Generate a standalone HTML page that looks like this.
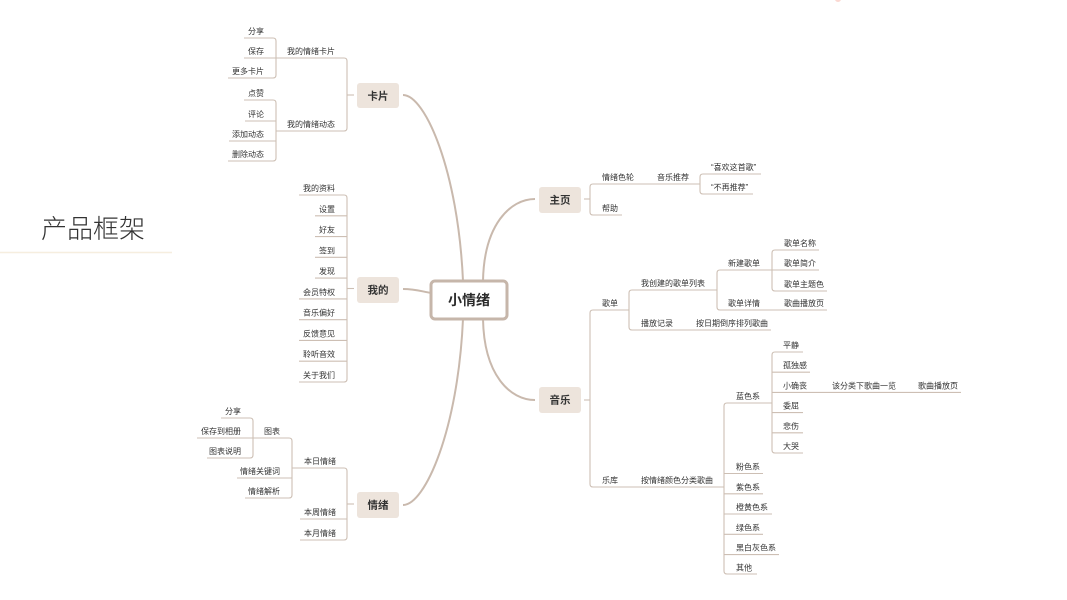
<!DOCTYPE html>
<html>
<head>
<meta charset="utf-8">
<style>
  html, body { margin:0; padding:0; background:#ffffff; }
  body { width:1067px; height:600px; overflow:hidden; }
  svg { display:block; }
  text { font-family: "Liberation Sans", "Noto Sans CJK SC", sans-serif; fill:#333333; }
  .t { font-size:8px; }
  .e { text-anchor:end; }
  .n { font-size:10.5px; font-weight:bold; text-anchor:middle; }
  .l { fill:none; stroke:#cdbfb4; stroke-width:1.1; }
  .c { fill:none; stroke:#c9b9ad; stroke-width:2; }
  .box { fill:#ede4dc; }
</style>
</head>
<body>
<svg width="1067" height="600" viewBox="0 0 1067 600" xmlns="http://www.w3.org/2000/svg">
  <!-- title -->
  <text x="41" y="238" style="font-size:26px;font-weight:300;fill:#333;">产品框架</text>
  <line x1="0" y1="252.5" x2="172" y2="252.5" stroke="#f6eedf" stroke-width="1.5"/>
  <circle cx="838" cy="-1" r="3" fill="#fbd8d2"/>

  <!-- main curves -->
  <path class="c" d="M403 95 C425 95 458 170 463 281"/>
  <path class="c" d="M403 505 C425 505 458 430 463 319"/>
  <path class="c" d="M403 289 C415 289 420 291 431 293"/>
  <path class="c" d="M535 199 C510 199 484 225 483 281"/>
  <path class="c" d="M535 400 C510 400 484 375 483 319"/>

  <!-- ===== 卡片 subtree ===== -->
  <path class="l" d="M277 58 H344 Q347 58 347 61 V128 Q347 131 344 131 H276"/>
  <path class="l" d="M347 95 H354"/>
  <path class="l" d="M244 38 H273 Q276 38 276 41 V75 Q276 78 273 78 H228"/>
  <path class="l" d="M244 58 H277"/>
  <path class="l" d="M244 100 H273 Q276 100 276 103 V158 Q276 161 273 161 H228"/>
  <path class="l" d="M245 121 H276 M229 141 H276"/>
  <text class="t e" x="335" y="54">我的情绪卡片</text>
  <text class="t e" x="335" y="127">我的情绪动态</text>
  <text class="t e" x="264" y="34">分享</text>
  <text class="t e" x="264" y="54">保存</text>
  <text class="t e" x="264" y="74">更多卡片</text>
  <text class="t e" x="264" y="96">点赞</text>
  <text class="t e" x="264" y="117">评论</text>
  <text class="t e" x="264" y="137">添加动态</text>
  <text class="t e" x="264" y="157">删除动态</text>

  <!-- ===== 我的 subtree ===== -->
  <path class="l" d="M299 195 H344 Q347 195 347 198 V379 Q347 382 344 382 H299"/>
  <path class="l" d="M347 288.5 H354"/>
  <path class="l" d="M315 215.8 H347 M315 236.6 H347 M315 257.3 H347 M315 278.1 H347 M299 298.9 H347 M299 319.7 H347 M299 340.4 H347 M299 361.2 H347"/>
  <text class="t e" x="335" y="191">我的资料</text>
  <text class="t e" x="335" y="211.8">设置</text>
  <text class="t e" x="335" y="232.6">好友</text>
  <text class="t e" x="335" y="253.3">签到</text>
  <text class="t e" x="335" y="274.1">发现</text>
  <text class="t e" x="335" y="294.9">会员特权</text>
  <text class="t e" x="335" y="315.7">音乐偏好</text>
  <text class="t e" x="335" y="336.4">反馈意见</text>
  <text class="t e" x="335" y="357.2">聆听音效</text>
  <text class="t e" x="335" y="378">关于我们</text>

  <!-- ===== 情绪 subtree ===== -->
  <path class="l" d="M292 468 H344 Q347 468 347 471 V537 Q347 540 344 540 H300"/>
  <path class="l" d="M300 519 H347"/>
  <path class="l" d="M347 504 H354"/>
  <path class="l" d="M253 438 H289 Q292 438 292 441 V495 Q292 498 289 498 H245"/>
  <path class="l" d="M237 478 H292"/>
  <path class="l" d="M221 418 H250 Q253 418 253 421 V455 Q253 458 250 458 H207"/>
  <path class="l" d="M197 438 H253"/>
  <text class="t e" x="336" y="464">本日情绪</text>
  <text class="t e" x="336" y="515">本周情绪</text>
  <text class="t e" x="336" y="536">本月情绪</text>
  <text class="t e" x="280" y="434">图表</text>
  <text class="t e" x="280" y="474">情绪关键词</text>
  <text class="t e" x="280" y="494">情绪解析</text>
  <text class="t e" x="241" y="414">分享</text>
  <text class="t e" x="241" y="434">保存到相册</text>
  <text class="t e" x="241" y="454">图表说明</text>

  <!-- ===== 主页 subtree ===== -->
  <path class="l" d="M584 199 H590"/>
  <path class="l" d="M700 184 H593 Q590 184 590 187 V212 Q590 215 593 215 H622"/>
  <path class="l" d="M761 174 H703 Q700 174 700 177 V191 Q700 194 703 194 H753"/>
  <text class="t" x="602" y="180">情绪色轮</text>
  <text class="t" x="657" y="180">音乐推荐</text>
  <text class="t" x="711" y="170">“喜欢这首歌”</text>
  <text class="t" x="711" y="190">“不再推荐”</text>
  <text class="t" x="602" y="211">帮助</text>

  <!-- ===== 音乐 subtree ===== -->
  <path class="l" d="M584 400 H590"/>
  <path class="l" d="M629 310 H593 Q590 310 590 313 V484 Q590 487 593 487 H724"/>
  <path class="l" d="M717 290 H632 Q629 290 629 293 V327 Q629 330 632 330 H771"/>
  <path class="l" d="M772 270 H720 Q717 270 717 273 V307 Q717 310 720 310 H827"/>
  <path class="l" d="M819 250 H775 Q772 250 772 253 V288 Q772 291 775 291 H827"/>
  <path class="l" d="M772 270 H819"/>
  <text class="t" x="602" y="306">歌单</text>
  <text class="t" x="641" y="286">我创建的歌单列表</text>
  <text class="t" x="641" y="326">播放记录</text>
  <text class="t" x="696" y="326">按日期倒序排列歌曲</text>
  <text class="t" x="728" y="266">新建歌单</text>
  <text class="t" x="728" y="306">歌单详情</text>
  <text class="t" x="784" y="306">歌曲播放页</text>
  <text class="t" x="784" y="246">歌单名称</text>
  <text class="t" x="784" y="266">歌单简介</text>
  <text class="t" x="784" y="287">歌单主题色</text>

  <path class="l" d="M772 403 H727 Q724 403 724 406 V571 Q724 574 727 574 H757"/>
  <path class="l" d="M724 473.5 H763 M724 493.8 H763 M724 514 H772 M724 534.3 H763 M724 554.6 H779"/>
  <text class="t" x="602" y="483">乐库</text>
  <text class="t" x="641" y="483">按情绪颜色分类歌曲</text>
  <text class="t" x="736" y="399">蓝色系</text>
  <text class="t" x="736" y="469.5">粉色系</text>
  <text class="t" x="736" y="489.8">紫色系</text>
  <text class="t" x="736" y="510">橙黄色系</text>
  <text class="t" x="736" y="530.3">绿色系</text>
  <text class="t" x="736" y="550.6">黑白灰色系</text>
  <text class="t" x="736" y="570.5">其他</text>

  <path class="l" d="M803 352 H775 Q772 352 772 355 V450 Q772 453 775 453 H803"/>
  <path class="l" d="M772 372.2 H810 M772 392.4 H961 M772 412.6 H803 M772 432.8 H803"/>
  <text class="t" x="783" y="348">平静</text>
  <text class="t" x="783" y="368.2">孤独感</text>
  <text class="t" x="783" y="388.4">小确丧</text>
  <text class="t" x="832" y="388.4">该分类下歌曲一览</text>
  <text class="t" x="918" y="388.4">歌曲播放页</text>
  <text class="t" x="783" y="408.6">委屈</text>
  <text class="t" x="783" y="428.8">悲伤</text>
  <text class="t" x="783" y="449">大哭</text>

  <!-- main nodes -->
  <rect class="box" x="357" y="83" width="42" height="25" rx="3"/>
  <text class="n" x="378" y="99.5">卡片</text>
  <rect class="box" x="357" y="277" width="42" height="26" rx="3"/>
  <text class="n" x="378" y="293.5">我的</text>
  <rect class="box" x="357" y="492" width="42" height="26" rx="3"/>
  <text class="n" x="378" y="508.5">情绪</text>
  <rect class="box" x="539" y="187" width="42" height="26" rx="3"/>
  <text class="n" x="560" y="203.5">主页</text>
  <rect class="box" x="539" y="387" width="42" height="26" rx="3"/>
  <text class="n" x="560" y="403.5">音乐</text>

  <!-- center -->
  <rect x="431" y="281" width="76" height="38" rx="4" fill="#ffffff" stroke="#c6b6aa" stroke-width="3"/>
  <text x="469" y="305" style="font-size:14px;font-weight:bold;text-anchor:middle;fill:#2b2b2b;">小情绪</text>
</svg>
</body>
</html>
